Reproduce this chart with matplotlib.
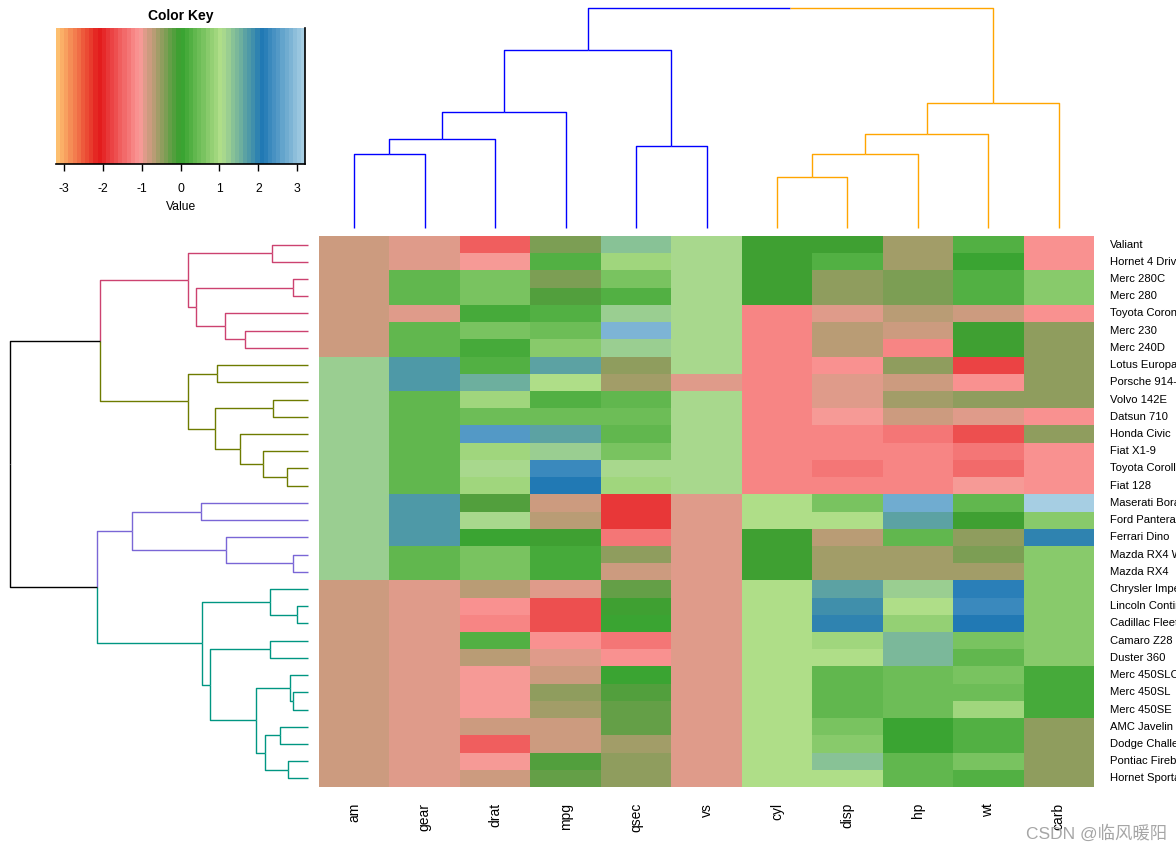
import numpy as np
import matplotlib
matplotlib.use("Agg")
import matplotlib.pyplot as plt
from matplotlib.colors import ListedColormap, BoundaryNorm, LinearSegmentedColormap

plt.rcParams['font.family'] = ['Liberation Sans', 'DejaVu Sans']

# ---------------- data (column-scaled mtcars, in displayed order) ----------------
rows = ["Valiant", "Hornet 4 Drive", "Merc 280C", "Merc 280", "Toyota Corona",
        "Merc 230", "Merc 240D", "Lotus Europa", "Porsche 914-2", "Volvo 142E",
        "Datsun 710", "Honda Civic", "Fiat X1-9", "Toyota Corolla", "Fiat 128",
        "Maserati Bora", "Ford Pantera L", "Ferrari Dino", "Mazda RX4 Wag",
        "Mazda RX4", "Chrysler Imperial", "Lincoln Continental",
        "Cadillac Fleetwood", "Camaro Z28", "Duster 360", "Merc 450SLC",
        "Merc 450SL", "Merc 450SE", "AMC Javelin", "Dodge Challenger",
        "Pontiac Firebird", "Hornet Sportabout"]
cols = ["am", "gear", "drat", "mpg", "qsec", "vs", "cyl", "disp", "hp", "wt", "carb"]

am = [-0.81, -0.81, -0.81, -0.81, -0.81, -0.81, -0.81, 1.19, 1.19, 1.19,
      1.19, 1.19, 1.19, 1.19, 1.19, 1.19, 1.19, 1.19, 1.19, 1.19,
      -0.81, -0.81, -0.81, -0.81, -0.81, -0.81, -0.81, -0.81, -0.81, -0.81,
      -0.81, -0.81]
gear = [-0.93, -0.93, 0.42, 0.42, -0.93, 0.42, 0.42, 1.78, 1.78, 0.42,
        0.42, 0.42, 0.42, 0.42, 0.42, 1.78, 1.78, 1.78, 0.42, 0.42,
        -0.93, -0.93, -0.93, -0.93, -0.93, -0.93, -0.93, -0.93, -0.93, -0.93,
        -0.93, -0.93]
drat = [-1.56, -0.97, 0.60, 0.60, 0.19, 0.60, 0.18, 0.32, 1.56, 0.96,
        0.47, 2.49, 0.90, 1.17, 0.90, -0.11, 1.17, 0.04, 0.57, 0.57,
        -0.69, -1.12, -1.25, 0.25, -0.72, -0.98, -0.98, -0.98, -0.84, -1.56,
        -0.97, -0.84]
mpg = [-0.33, 0.22, -0.38, -0.15, 0.23, 0.45, 0.72, 1.71, 0.98, 0.22,
       0.45, 1.71, 1.20, 2.29, 2.04, -0.84, -0.71, -0.06, 0.15, 0.15,
       -0.89, -1.61, -1.61, -1.13, -0.96, -0.81, -0.46, -0.61, -0.81, -0.76,
       -0.15, -0.23]
qsec = [1.33, 0.89, 0.59, 0.25, 1.21, 2.83, 1.20, -0.53, -0.64, 0.42,
        0.43, 0.38, 0.59, 1.15, 0.91, -1.82, -1.87, -1.31, -0.46, -0.78,
        -0.24, -0.02, 0.07, -1.36, -1.12, 0.08, -0.14, -0.25, -0.31, -0.55,
        -0.45, -0.46]
vs = [1.12, 1.12, 1.12, 1.12, 1.12, 1.12, 1.12, 1.12, -0.87, 1.12,
      1.12, 1.12, 1.12, 1.12, 1.12, -0.87, -0.87, -0.87, -0.87, -0.87,
      -0.87, -0.87, -0.87, -0.87, -0.87, -0.87, -0.87, -0.87, -0.87, -0.87,
      -0.87, -0.87]
cyl = [-0.10, -0.10, -0.10, -0.10, -1.22, -1.22, -1.22, -1.22, -1.22, -1.22,
       -1.22, -1.22, -1.22, -1.22, -1.22, 1.01, 1.01, -0.10, -0.10, -0.10,
       1.01, 1.01, 1.01, 1.01, 1.01, 1.01, 1.01, 1.01, 1.01, 1.01,
       1.01, 1.01]
disp = [-0.05, 0.22, -0.51, -0.51, -0.89, -0.73, -0.68, -1.09, -0.89, -0.89,
        -0.99, -1.25, -1.22, -1.29, -1.23, 0.57, 0.97, -0.69, -0.57, -0.57,
        1.69, 1.85, 1.95, 0.96, 1.04, 0.36, 0.36, 0.36, 0.59, 0.70,
        1.37, 1.04]
hp = [-0.61, -0.54, -0.35, -0.35, -0.72, -0.75, -1.24, -0.49, -0.81, -0.55,
      -0.78, -1.38, -1.18, -1.19, -1.18, 2.75, 1.71, 0.41, -0.54, -0.54,
      1.22, 1.00, 0.85, 1.43, 1.43, 0.49, 0.49, 0.49, 0.05, 0.05,
      0.41, 0.41]
wt = [0.25, 0.00, 0.23, 0.23, -0.77, -0.07, -0.03, -1.74, -1.10, -0.45,
      -0.92, -1.64, -1.31, -1.41, -1.04, 0.36, -0.05, -0.46, -0.35, -0.61,
      2.17, 2.26, 2.08, 0.64, 0.36, 0.58, 0.52, 0.87, 0.22, 0.31,
      0.64, 0.23]
carb = [-1.12, -1.12, 0.74, 0.74, -1.12, -0.50, -0.50, -0.50, -0.50, -0.50,
        -1.12, -0.50, -1.12, -1.12, -1.12, 3.21, 0.74, 1.97, 0.74, 0.74,
        0.74, 0.74, 0.74, 0.74, 0.74, 0.12, 0.12, 0.12, -0.50, -0.50,
        -0.50, -0.50]

# row dendrogram (hclust-style merges: -k = k-th displayed row, +m = m-th merge)
row_merge_a = [-1, -3, -6, -5, 2, 1, -8, -10, -14, -13, -12, 8, 7, 6,
               -16, -19, -18, 15, -22, -21, -24, -27, -26, -29, -31, 24, 23, 21, 20, 18, 14]
row_merge_b = [-2, -4, -7, 3, 4, 5, -9, -11, -15, 9, 10, 11, 12, 13,
               -17, -20, 16, 17, -23, 19, -25, -28, 22, -30, -32, 25, 26, 27, 28, 29, 30]
row_heights = [1.01, 0.41, 1.78, 2.35, 3.18, 3.41, 2.58, 0.98, 0.58, 1.27, 1.93, 2.64, 3.41, 5.93,
               3.04, 0.41, 2.33, 5.01, 0.30, 1.07, 1.07, 0.41, 0.50, 0.78, 0.55, 1.21, 1.47,
               2.78, 3.01, 6.01, 8.50]
row_cluster_sizes = [7, 8, 5, 12]
row_cluster_colors = ["#CC4270", "#6E7B00", "#7A66D6", "#009682"]

# column dendrogram
col_merge_a = [-1, 1, 2, -5, 3, -7, 6, 7, 8, 5]
col_merge_b = [-2, -3, -4, -6, 4, -8, -9, -10, -11, 9]
col_heights = [3.58, 4.31, 5.63, 3.97, 8.65, 2.46, 3.58, 4.56, 6.07, 10.70]
col_cluster_sizes = [6, 5]
col_cluster_colors = ["#0000FF", "#FFA500"]

palette_anchors = ["#FDBF6F", "#E31A1C", "#FB9A99", "#33A02C", "#B2DF8A", "#1F78B4", "#A6CEE3"]
n_colors = 60
key_ticks = [-3, -2, -1, 0, 1, 2, 3]

# ---------------- figure ----------------
W, H = 1176, 851
fig = plt.figure(figsize=(W / 100, H / 100), dpi=100)


def px_axes(l, t, r, b):
    return fig.add_axes([l / W, 1 - b / H, (r - l) / W, (b - t) / H])


Z = np.array([am, gear, drat, mpg, qsec, vs, cyl, disp, hp, wt, carb]).T
vmax = np.abs(Z).max()
ramp = LinearSegmentedColormap.from_list("ramp", palette_anchors)
cmap = ListedColormap([ramp(i / (n_colors - 1)) for i in range(n_colors)])
breaks = np.linspace(-vmax, vmax, n_colors + 1)
norm = BoundaryNorm(breaks, n_colors)

# heatmap
axh = px_axes(319, 236, 1094, 787)
axh.pcolormesh(np.arange(len(cols) + 1), np.arange(len(rows) + 1), Z, cmap=cmap, norm=norm)
axh.set_xlim(0, len(cols))
axh.set_ylim(len(rows), 0)
axh.axis("off")
for i, name in enumerate(rows):
    axh.text(1.0 + 16 / 775, 1 - (i + 0.5) / len(rows), name, transform=axh.transAxes,
             ha="left", va="center", fontsize=8.1, clip_on=False)
for j, name in enumerate(cols):
    axh.text((j + 0.5) / len(cols), -16 / 551, name, transform=axh.transAxes,
             ha="center", va="top", rotation=90, fontsize=10, clip_on=False)


def draw_dendro(ax, ma, mb, hts, sizes, colors, orient):
    bounds = np.cumsum([0] + list(sizes))

    def clus(k):
        return int(np.searchsorted(bounds, k, side="right") - 1)

    nodes = {}

    def get(idx):
        if idx < 0:
            k = -idx - 1
            return (k + 0.5, 0.0, {clus(k)})
        return nodes[idx]

    for m, (a, b, h) in enumerate(zip(ma, mb, hts), start=1):
        ca, cb = get(a), get(b)
        p = (ca[0] + cb[0]) / 2
        for c in (ca, cb):
            col = colors[list(c[2])[0]] if len(c[2]) == 1 else "black"
            xs = [p, c[0], c[0]]
            ys = [h, h, c[1]]
            if orient == "top":
                ax.plot(xs, ys, color=col, lw=1.0, clip_on=False, solid_capstyle="butt")
            else:
                ax.plot(ys, xs, color=col, lw=1.0, clip_on=False, solid_capstyle="butt")
        nodes[m] = (p, h, ca[2] | cb[2])


axc = px_axes(319, 8.3, 1094, 227.7)
draw_dendro(axc, col_merge_a, col_merge_b, col_heights, col_cluster_sizes, col_cluster_colors, "top")
axc.set_xlim(0, len(cols))
axc.set_ylim(0, max(col_heights))
axc.axis("off")

axr = px_axes(10.3, 236, 307.7, 787)
draw_dendro(axr, row_merge_a, row_merge_b, row_heights, row_cluster_sizes, row_cluster_colors, "left")
axr.set_xlim(max(row_heights), 0)
axr.set_ylim(len(rows), 0)
axr.axis("off")

# color key
axk = px_axes(56, 28, 305.3, 164)
kx = breaks
axk.pcolormesh(kx, [0, 1], ((kx[:-1] + kx[1:]) / 2)[None, :], cmap=cmap, norm=norm)
axk.set_xlim(-vmax, vmax)
axk.set_ylim(0, 1)
axk.set_yticks([])
axk.set_xticks(key_ticks)
axk.set_xticklabels([str(t) for t in key_ticks], fontsize=8.7)
axk.tick_params(axis="x", length=5, width=1, pad=9)
for s in ("top", "left"):
    axk.spines[s].set_visible(False)
axk.spines["bottom"].set_linewidth(1.2)
axk.spines["right"].set_linewidth(1.2)
axk.set_xlabel("Value", fontsize=8.7, labelpad=4)
axk.set_title("Color Key", fontsize=10, fontweight="bold", pad=6)

fig.text(1026 / W, 1 - 833 / H, "CSDN @临风暖阳", fontsize=12.5, color="#A6A6A6",
         ha="left", va="center", family=["Liberation Sans", "Noto Sans CJK SC"])

fig.savefig("out.png", dpi=100)
